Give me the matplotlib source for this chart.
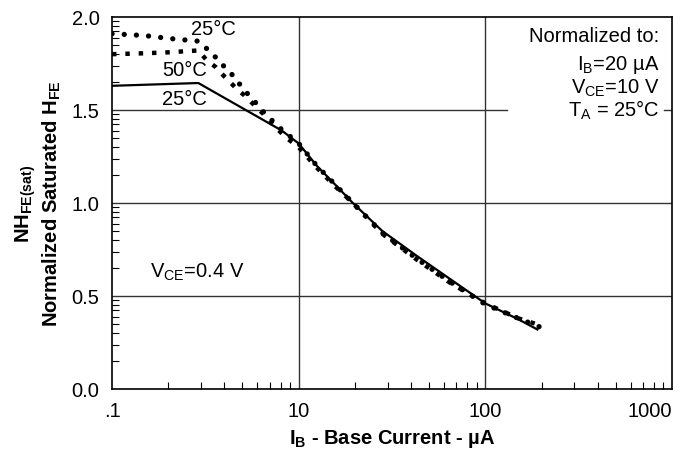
import numpy as np
import matplotlib
matplotlib.use('Agg')
import matplotlib.pyplot as plt

plt.rcParams['font.family'] = ['Liberation Sans', 'DejaVu Sans']
plt.rcParams['mathtext.fontset'] = 'custom'
plt.rcParams['mathtext.rm'] = 'Liberation Sans'
plt.rcParams['mathtext.bf'] = 'Liberation Sans:bold'

# base current (uA) and normalized saturated hFE
ib_25_dot = [1, 1.5, 2, 2.9, 3.3, 3.7, 4.1, 4.5, 4.9, 5.4, 6.0, 6.6, 8, 10,
             12.5, 15.3, 19.5, 28, 43, 65, 100, 150, 200]
hfe_25_dot = [1.91, 1.90, 1.885, 1.87, 1.82, 1.77, 1.72, 1.68, 1.63, 1.58, 1.53, 1.48, 1.40, 1.32,
              1.20, 1.11, 1.00, 0.84, 0.70, 0.575, 0.455, 0.38, 0.33]

ib_50 = [1, 1.5, 2, 2.9, 3.2, 3.6, 4.0, 4.7, 5.1, 5.6, 6.6, 7.3, 8.6, 10,
         12.5, 15.3, 19.5, 28, 43, 65, 100, 150, 200]
hfe_50 = [1.80, 1.805, 1.81, 1.82, 1.77, 1.73, 1.68, 1.61, 1.58, 1.54, 1.47, 1.42, 1.35, 1.30,
          1.19, 1.10, 1.00, 0.835, 0.695, 0.57, 0.46, 0.38, 0.34]

ib_25_sol = [1, 2.9, 8.1, 10, 12.5, 15.3, 19.5, 28, 43, 65, 100, 150, 190]
hfe_25_sol = [1.63, 1.645, 1.39, 1.32, 1.20, 1.11, 1.00, 0.85, 0.715, 0.59, 0.46, 0.375, 0.32]

xticks = [1, 10, 100, 1000]
xtick_labels = ['.1', '10', '100', '1000']
yticks = [0.0, 0.5, 1.0, 1.5, 2.0]

fig = plt.figure(figsize=(6.86, 4.52), dpi=100)
ax = fig.add_axes([0.1633, 0.1372, 0.8163, 0.823])
ax.set_xscale('log')
ax.set_xlim(1, 1000)
ax.set_ylim(0, 2.0)

# grid
for xv in [10, 100]:
    ax.axvline(xv, color='#333333', lw=1.0, zorder=1)
for yv in [0.5, 1.0]:
    ax.axhline(yv, color='#333333', lw=1.0, zorder=1)
ax.axhline(1.5, xmin=0, xmax=0.705, color='#333333', lw=1.0, zorder=1)
ax.axhline(1.5, xmin=0.985, xmax=1.0, color='#333333', lw=1.0, zorder=1)

ax.plot(ib_25_sol, hfe_25_sol, color='black', lw=1.6, zorder=3)
ax.plot(ib_50, hfe_50, color='black', lw=3.2, linestyle=(0, (1.0, 2.0)),
        dash_capstyle='butt', zorder=3)
ax.plot(ib_25_dot, hfe_25_dot, color='black', lw=3.8, linestyle=(0, (0.01, 2.3)),
        dash_capstyle='round', zorder=4)

fs = 14.5
ax.set_xticks(xticks)
ax.set_xticklabels(xtick_labels)
ax.get_xticklabels()[-1].set_horizontalalignment('right')
ax.set_xticks([k * 10 ** d for d in range(3) for k in range(2, 10)], minor=True)
ax.xaxis.set_minor_formatter(matplotlib.ticker.NullFormatter())
ax.set_yticks(yticks)
ax.set_yticklabels(['%.1f' % v for v in yticks])
yminor = [base + 0.5 * np.log10(k) for base in [0, 0.5, 1.0, 1.5] for k in range(2, 10)]
ax.set_yticks(yminor, minor=True)
ax.tick_params(axis='both', which='major', length=0, pad=9, labelsize=fs)
ax.tick_params(axis='both', which='minor', direction='in', length=5, width=0.8)
ax.tick_params(axis='x', which='minor', top=False)
for s in ax.spines.values():
    s.set_linewidth(1.2)

ax.set_xlabel(r'I$_\mathregular{B}$ - Base Current - µA', fontsize=fs,
              fontweight='bold', labelpad=5)
ax.set_ylabel('NH$_\\mathregular{FE(sat)}$\nNormalized Saturated H$_\\mathregular{FE}$',
              fontsize=fs, fontweight='bold', labelpad=6, linespacing=1.2)

ax.text(3.5, 1.94, '25°C', fontsize=fs, ha='center', va='center')
ax.text(2.45, 1.72, '50°C', fontsize=fs, ha='center', va='center')
ax.text(2.45, 1.56, '25°C', fontsize=fs, ha='center', va='center')
ax.text(1.6, 0.63, r'V$_\mathregular{CE}$=0.4 V', fontsize=fs, ha='left', va='center')

note = ['Normalized to:', r'I$_\mathregular{B}$=20 µA',
        r'V$_\mathregular{CE}$=10 V', r'T$_\mathregular{A}$ = 25°C']
note_y = [0.949, 0.874, 0.812, 0.753]
for line, yy in zip(note, note_y):
    ax.text(0.978, yy, line, transform=ax.transAxes,
            fontsize=fs, ha='right', va='center', zorder=5)

fig.savefig('out.png', dpi=100)
